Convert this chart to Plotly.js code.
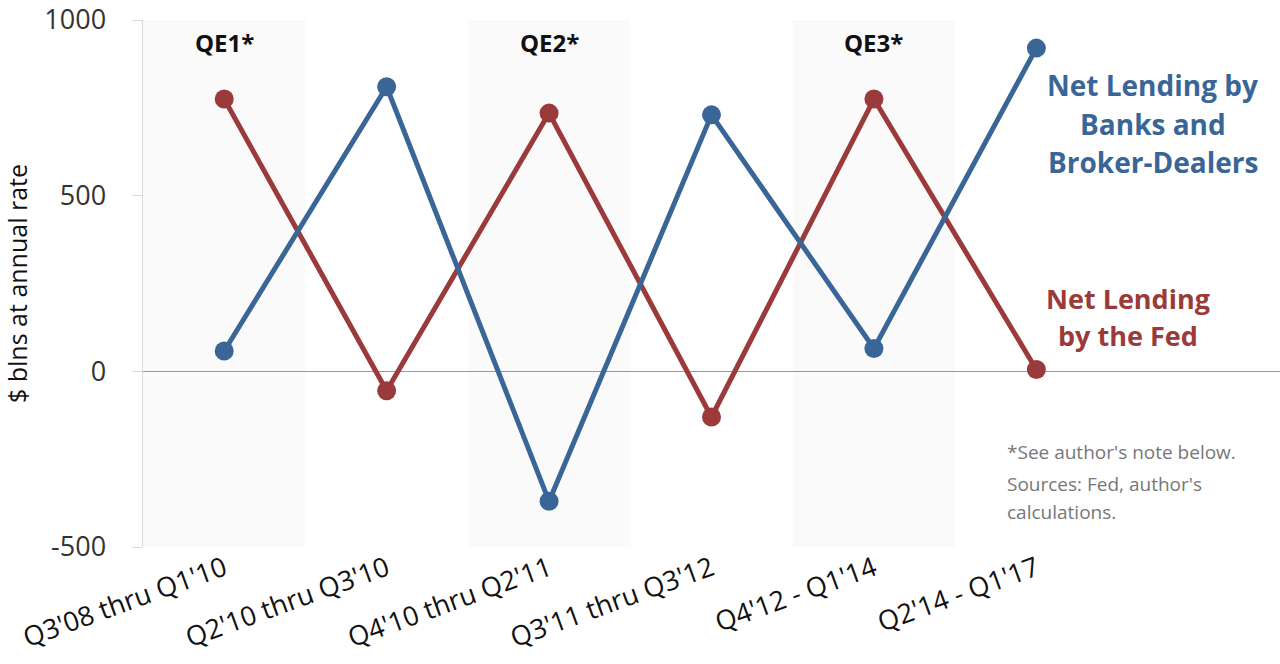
<!DOCTYPE html>
<html><head><meta charset="utf-8">
<script src="https://cdn.plot.ly/plotly-3.0.1.min.js"></script>
<style>html,body{margin:0;padding:0;background:#fff;}#chart{width:1280px;height:664px;}</style>
</head><body><div id="chart"></div>
<script>
const categories = ["Q3'08 thru Q1'10","Q2'10 thru Q3'10","Q4'10 thru Q2'11","Q3'11 thru Q3'12","Q4'12 - Q1'14","Q2'14 - Q1'17"];
const banksBrokerDealers = [58, 810, -370, 730, 65, 920];
const fed = [775, -55, 735, -130, 775, 5];
const qeLabels = ["QE1*", "QE2*", "QE3*"];
const qeIndex = [0, 2, 4];
const yTicks = [-500, 0, 500, 1000];
const yTickText = ["-500", "0", "500", "1000"];
const blueLabelLines = ["Net Lending by", "Banks and", "Broker-Dealers"];
const redLabelLines = ["Net Lending", "by the Fed"];
const noteLines = ["*See author's note below.", "Sources: Fed, author's", "calculations."];

const blue = '#3a6697', red = '#9b3a3a';
const font = '"Open Sans", Lato, sans-serif';

const traces = [
  {x: categories, y: fed, type: 'scatter', mode: 'lines+markers', line: {color: red, width: 5}, marker: {color: red, size: 19}, cliponaxis: false},
  {x: categories, y: banksBrokerDealers, type: 'scatter', mode: 'lines+markers', line: {color: blue, width: 5}, marker: {color: blue, size: 19}, cliponaxis: false}
];

const shapes = qeIndex.map(i => ({type: 'rect', xref: 'x', yref: 'paper', x0: i - 0.5, x1: i + 0.5, y0: 0, y1: 1, fillcolor: '#fafafa', line: {width: 0}, layer: 'below'}));

const annotations = qeIndex.map((i, k) => ({x: categories[i], y: 1, xref: 'x', yref: 'paper', xanchor: 'center', yanchor: 'middle', yshift: -22, text: '<b>' + qeLabels[k] + '</b>', showarrow: false, font: {family: font, size: 24, color: '#111'}}));
const blueY = [0.877, 0.803, 0.731];
blueLabelLines.forEach((t, k) => annotations.push({xref: 'paper', yref: 'paper', x: 0.888, y: blueY[k], xanchor: 'center', yanchor: 'middle', text: '<b>' + t + '</b>', showarrow: false, font: {family: font, size: 28, color: blue}}));
const redY = [0.472, 0.402];
redLabelLines.forEach((t, k) => annotations.push({xref: 'paper', yref: 'paper', x: 0.866, y: redY[k], xanchor: 'center', yanchor: 'middle', text: '<b>' + t + '</b>', showarrow: false, font: {family: font, size: 27, color: red}}));
const noteY = [0.18, 0.12, 0.066];
noteLines.forEach((t, k) => annotations.push({xref: 'paper', yref: 'paper', x: 0.758, y: noteY[k], xanchor: 'left', yanchor: 'middle', text: t, showarrow: false, align: 'left', font: {family: font, size: 19, color: '#777'}}));

const layout = {
  width: 1280, height: 664,
  margin: {l: 143, r: 0, t: 20, b: 117},
  paper_bgcolor: '#fff', plot_bgcolor: '#fff',
  showlegend: false,
  font: {family: font, color: '#222'},
  xaxis: {type: 'category', range: [-0.5, 6.5], showgrid: false, zeroline: false, showline: false, ticks: '', tickangle: -20, tickfont: {family: font, size: 27, color: '#111'}},
  yaxis: {range: [-500, 1000], tickvals: yTicks, ticktext: yTickText, showgrid: false, zeroline: true, zerolinecolor: '#999', zerolinewidth: 1.5, showline: true, linecolor: '#d9d9d9', linewidth: 1.5, ticks: 'outside', ticklen: 10, tickcolor: '#d9d9d9', ticklabelstandoff: 20, tickfont: {family: font, size: 27, color: '#333'},
    title: {text: '$ blns at annual rate', font: {family: font, size: 25, color: '#111'}, standoff: 18}},
  shapes: shapes,
  annotations: annotations
};
Plotly.newPlot('chart', traces, layout, {displayModeBar: false, staticPlot: true});
</script></body></html>
